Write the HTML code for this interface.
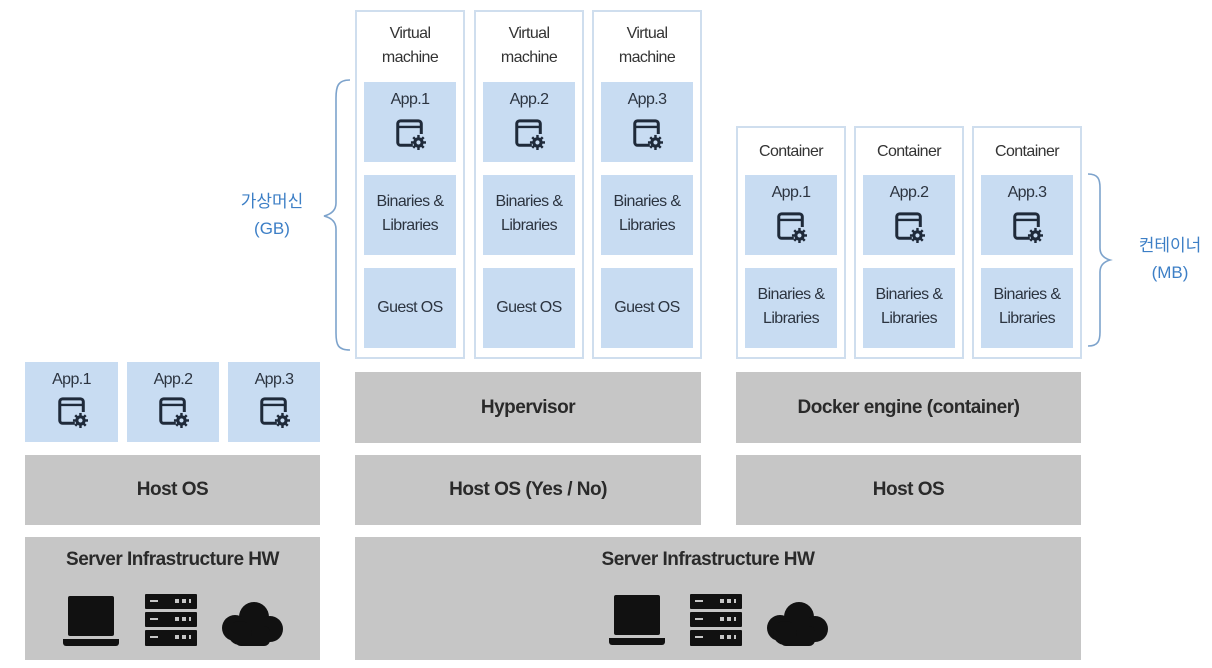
<!DOCTYPE html>
<html><head><meta charset="utf-8"><style>
*{margin:0;padding:0;box-sizing:border-box}
body{width:1212px;height:668px;background:#fff;position:relative;overflow:hidden;font-family:"Liberation Sans","Noto Sans CJK KR",sans-serif}
.a{position:absolute}
.blue{position:absolute;background:#c8dcf2;color:#2c3440;font-size:16px;letter-spacing:-0.6px;text-align:center;line-height:24px}
.gray{position:absolute;background:#c6c6c6;color:#2a2a2a;font-size:19px;font-weight:bold;letter-spacing:-0.5px;text-align:center}
.frame{position:absolute;border:2px solid #cfdeee;background:#fff}
.ttl{position:absolute;left:0;right:0;text-align:center;color:#333;font-size:16px;letter-spacing:-0.6px;line-height:24px}
.lbl{position:absolute;color:#3d7fc6;font-size:17px;text-align:center;line-height:27px}
svg.ic{position:absolute;left:50%;margin-left:-16px}
</style></head><body>
<svg width="0" height="0" style="position:absolute"><defs>
<symbol id="app" viewBox="0 0 34 34">
<path d="M20 29H7a3 3 0 0 1-3-3V6a3 3 0 0 1 3-3h19a3 3 0 0 1 3 3v11" fill="none" stroke="#1f2a3a" stroke-width="3.2"/>
<line x1="4" y1="9.5" x2="29" y2="9.5" stroke="#1f2a3a" stroke-width="2.5"/>
<g transform="translate(26,26)"><circle r="5.5" fill="#1f2a3a"/><g stroke="#1f2a3a" stroke-width="2.6"><line x1="0" y1="-8" x2="0" y2="8"/><line x1="-8" y1="0" x2="8" y2="0"/><line x1="-5.6" y1="-5.6" x2="5.6" y2="5.6"/><line x1="-5.6" y1="5.6" x2="5.6" y2="-5.6"/></g><circle r="2.2" fill="#c8dcf2"/></g>
</symbol>
<symbol id="laptop" viewBox="0 0 56 52">
<rect x="5" y="1" width="46" height="40" rx="2" fill="#111"/><path d="M0 44h56v4a3 3 0 0 1-3 3H3a3 3 0 0 1-3-3z" fill="#111"/>
</symbol>
<symbol id="server" viewBox="0 0 52 52">
<g fill="#111"><rect x="0" y="0" width="52" height="15" rx="1"/><rect x="0" y="18" width="52" height="15" rx="1"/><rect x="0" y="36" width="52" height="16" rx="1"/></g>
<g fill="#c6c6c6"><rect x="5" y="6" width="8" height="2"/><rect x="5" y="24" width="8" height="2"/><rect x="5" y="42" width="8" height="2"/>
<rect x="30" y="5" width="4" height="4"/><rect x="37" y="5" width="4" height="4"/><rect x="44" y="5" width="2" height="4"/>
<rect x="30" y="23" width="4" height="4"/><rect x="37" y="23" width="4" height="4"/><rect x="44" y="23" width="2" height="4"/>
<rect x="30" y="41" width="4" height="4"/><rect x="37" y="41" width="4" height="4"/><rect x="44" y="41" width="2" height="4"/></g>
</symbol>
<symbol id="cloud" viewBox="0 0 64 46">
<g fill="#111"><circle cx="34" cy="17" r="15"/><circle cx="15" cy="28" r="13"/><circle cx="50" cy="29" r="13"/><rect x="15" y="26" width="35" height="20" rx="6"/><circle cx="20" cy="33" r="12"/></g>
</symbol>
</defs></svg>

<!-- Left stack -->
<div class="blue" style="left:25px;top:362px;width:93px;height:80px;padding-top:6px">App.1<svg class="ic" style="top:34px" width="32" height="32"><use href="#app"/></svg></div>
<div class="blue" style="left:127px;top:362px;width:92px;height:80px;padding-top:6px">App.2<svg class="ic" style="top:34px" width="32" height="32"><use href="#app"/></svg></div>
<div class="blue" style="left:228px;top:362px;width:92px;height:80px;padding-top:6px">App.3<svg class="ic" style="top:34px" width="32" height="32"><use href="#app"/></svg></div>
<div class="gray" style="left:25px;top:455px;width:295px;height:70px;line-height:70px">Host OS</div>
<div class="gray" style="left:25px;top:537px;width:295px;height:123px;padding-top:12px">Server Infrastructure HW</div>
<svg class="a" style="left:63px;top:595px" width="56" height="52"><use href="#laptop"/></svg>
<svg class="a" style="left:145px;top:594px" width="52" height="52"><use href="#server"/></svg>
<svg class="a" style="left:220px;top:600px" width="64" height="46"><use href="#cloud"/></svg>

<!-- VM brace + label -->
<div class="lbl" style="left:232px;top:188px;width:80px">가상머신<br>(GB)</div>
<svg class="a" style="left:310px;top:78px" width="45" height="275"><path d="M40 2 C28 2 26 8 26 20 L26 125 C26 132 22 136 14 138 C22 140 26 144 26 151 L26 255 C26 267 28 272 40 272" fill="none" stroke="#7da3cc" stroke-width="1.6"/></svg>

<!-- VMs -->
<div class="frame" style="left:355px;top:10px;width:110px;height:349px"><div class="ttl" style="top:10px">Virtual<br>machine</div></div>
<div class="frame" style="left:474px;top:10px;width:110px;height:349px"><div class="ttl" style="top:10px">Virtual<br>machine</div></div>
<div class="frame" style="left:592px;top:10px;width:110px;height:349px"><div class="ttl" style="top:10px">Virtual<br>machine</div></div>

<div class="blue" style="left:364px;top:82px;width:92px;height:80px;padding-top:6px">App.1<svg class="ic" style="top:36px" width="32" height="32"><use href="#app"/></svg></div>
<div class="blue" style="left:483px;top:82px;width:92px;height:80px;padding-top:6px">App.2<svg class="ic" style="top:36px" width="32" height="32"><use href="#app"/></svg></div>
<div class="blue" style="left:601px;top:82px;width:92px;height:80px;padding-top:6px">App.3<svg class="ic" style="top:36px" width="32" height="32"><use href="#app"/></svg></div>
<div class="blue" style="left:364px;top:175px;width:92px;height:80px;padding-top:15px">Binaries &amp;<br>Libraries</div>
<div class="blue" style="left:483px;top:175px;width:92px;height:80px;padding-top:15px">Binaries &amp;<br>Libraries</div>
<div class="blue" style="left:601px;top:175px;width:92px;height:80px;padding-top:15px">Binaries &amp;<br>Libraries</div>
<div class="blue" style="left:364px;top:268px;width:92px;height:80px;line-height:80px">Guest OS</div>
<div class="blue" style="left:483px;top:268px;width:92px;height:80px;line-height:80px">Guest OS</div>
<div class="blue" style="left:601px;top:268px;width:92px;height:80px;line-height:80px">Guest OS</div>

<div class="gray" style="left:355px;top:372px;width:346px;height:71px;line-height:71px">Hypervisor</div>
<div class="gray" style="left:355px;top:455px;width:346px;height:70px;line-height:70px">Host OS (Yes / No)</div>
<div class="gray" style="left:355px;top:537px;width:726px;height:123px;padding-top:12px;text-indent:-20px">Server Infrastructure HW</div>
<svg class="a" style="left:609px;top:594px" width="56" height="52"><use href="#laptop"/></svg>
<svg class="a" style="left:690px;top:594px" width="52" height="52"><use href="#server"/></svg>
<svg class="a" style="left:765px;top:600px" width="64" height="46"><use href="#cloud"/></svg>

<!-- Containers -->
<div class="frame" style="left:736px;top:126px;width:110px;height:233px"><div class="ttl" style="top:12px">Container</div></div>
<div class="frame" style="left:854px;top:126px;width:110px;height:233px"><div class="ttl" style="top:12px">Container</div></div>
<div class="frame" style="left:972px;top:126px;width:110px;height:233px"><div class="ttl" style="top:12px">Container</div></div>
<div class="blue" style="left:745px;top:175px;width:92px;height:80px;padding-top:6px">App.1<svg class="ic" style="top:36px" width="32" height="32"><use href="#app"/></svg></div>
<div class="blue" style="left:863px;top:175px;width:92px;height:80px;padding-top:6px">App.2<svg class="ic" style="top:36px" width="32" height="32"><use href="#app"/></svg></div>
<div class="blue" style="left:981px;top:175px;width:92px;height:80px;padding-top:6px">App.3<svg class="ic" style="top:36px" width="32" height="32"><use href="#app"/></svg></div>
<div class="blue" style="left:745px;top:268px;width:92px;height:80px;padding-top:15px">Binaries &amp;<br>Libraries</div>
<div class="blue" style="left:863px;top:268px;width:92px;height:80px;padding-top:15px">Binaries &amp;<br>Libraries</div>
<div class="blue" style="left:981px;top:268px;width:92px;height:80px;padding-top:15px">Binaries &amp;<br>Libraries</div>

<svg class="a" style="left:1084px;top:172px" width="40" height="180"><path d="M4 2 C14 2 16 7 16 16 L16 76 C16 82 19 86 26 88 C19 90 16 94 16 100 L16 160 C16 169 14 174 4 174" fill="none" stroke="#7da3cc" stroke-width="1.6"/></svg>
<div class="lbl" style="left:1128px;top:232px;width:84px">컨테이너<br>(MB)</div>

<div class="gray" style="left:736px;top:372px;width:345px;height:71px;line-height:71px">Docker engine (container)</div>
<div class="gray" style="left:736px;top:455px;width:345px;height:70px;line-height:70px">Host OS</div>
</body></html>
